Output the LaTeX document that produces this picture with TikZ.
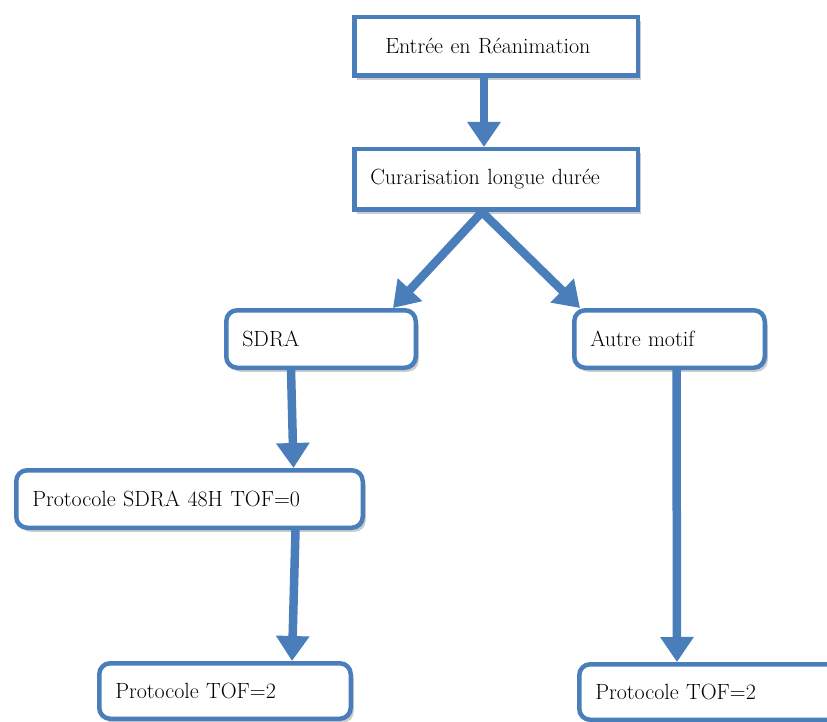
\documentclass[tikz,border=0pt]{standalone}
\usepackage{fontspec}
\usepackage{xcolor}
\definecolor{flowblue}{HTML}{4A7EBB}
\usepackage{tikz}
\usetikzlibrary{arrows.meta, positioning, shadows}

\tikzset{
  stepbox/.style={draw=flowblue, line width=4.5pt, fill=white,
        align=left, inner xsep=16pt, inner ysep=0pt,
        font=\fontsize{22}{26}\selectfont,
        drop shadow={shadow xshift=3pt, shadow yshift=-4pt, opacity=.4}},
  roundbox/.style={stepbox, rounded corners=11pt},
  flow/.style={-{Triangle[width=32pt,length=25pt]}, line width=8.5pt, draw=flowblue}
}

\begin{document}
\begin{tikzpicture}[x=1pt, y=-1pt]
  \useasboundingbox (0,0) rectangle (827,722);

  \node[stepbox, text width=251.5pt, minimum height=58.5pt] (entree)
        at (496,46.5) {\hspace*{15pt}Entrée en Réanimation};

  \node[stepbox, text width=251.5pt, minimum height=60.5pt,
        below=69pt of entree] (curare)
        {Curarisation longue durée};

  \node[roundbox, text width=157.5pt, minimum height=57.5pt,
        below=96pt of curare, xshift=-175pt] (sdra)
        {SDRA};

  \node[roundbox, text width=158.5pt, minimum height=57.5pt,
        below=96pt of curare, xshift=173.5pt] (autre)
        {Autre motif};

  \node[roundbox, text width=314.5pt, minimum height=57.5pt,
        below=98pt of sdra, xshift=-131.5pt] (protosdra)
        {Protocole SDRA 48H TOF=0};

  \node[roundbox, text width=219.5pt, minimum height=55.5pt,
        below=131pt of protosdra, xshift=35.5pt] (tofleft)
        {Protocole TOF=2};

  \node[roundbox, text width=233.5pt, minimum height=55.5pt,
        below=292pt of autre, xshift=42.5pt] (tofright)
        {Protocole TOF=2};

  \draw[flow] ([xshift=-12pt]entree.south) -- ([xshift=-12pt]curare.north);
  \draw[flow] ([xshift=-14pt]curare.south) -- ([xshift=72pt]sdra.north);
  \draw[flow] ([xshift=-14pt]curare.south) -- ([xshift=-89.5pt]autre.north);
  \draw[flow] ([xshift=-30pt]sdra.south) -- ([xshift=104pt]protosdra.north);
  \draw[flow] ([xshift=106pt]protosdra.south) -- ([xshift=67pt]tofleft.north);
  \draw[flow] ([xshift=7pt]autre.south) -- ([xshift=-35pt]tofright.north);
\end{tikzpicture}
\end{document}
